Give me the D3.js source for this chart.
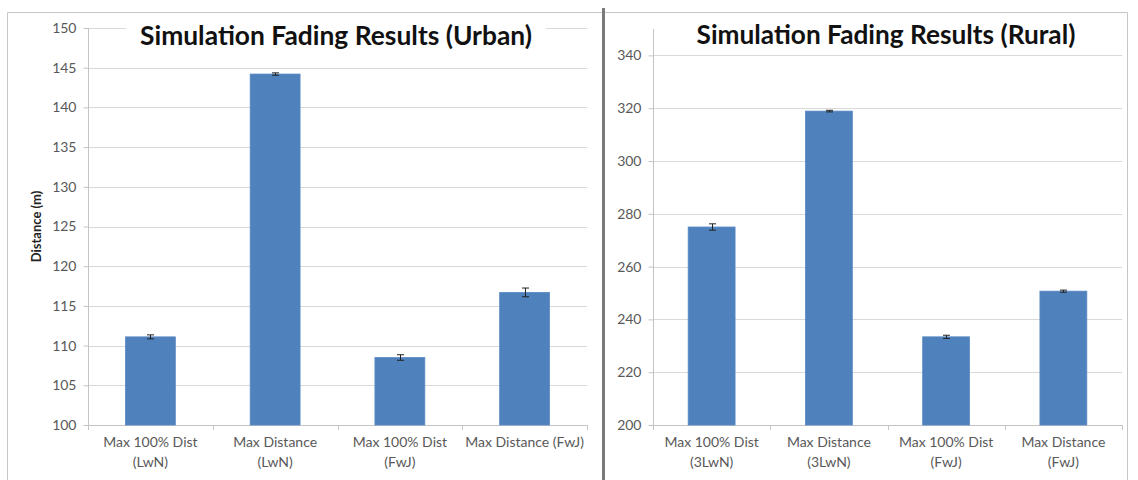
<!DOCTYPE html>
<html>
<head>
<meta charset="utf-8">
<script src="https://cdn.jsdelivr.net/npm/d3@7/dist/d3.min.js"></script>
<style>
  html, body { margin: 0; padding: 0; background: #fff; }
  svg { display: block; }
  text { font-family: Lato, "Open Sans", "DejaVu Sans", sans-serif; }
</style>
</head>
<body>
<svg id="chart" width="1138" height="480"></svg>
<script>
// Urban fading results
const urbanTitle = "Simulation Fading Results (Urban)";
const urbanCategories = ["Max 100% Dist\n(LwN)", "Max Distance\n(LwN)", "Max 100% Dist\n(FwJ)", "Max Distance (FwJ)"];
const urbanValues = [111.1, 144.2, 108.5, 116.7];
const urbanErrors = [0.25, 0.15, 0.35, 0.55];
const urbanTicks = [100, 105, 110, 115, 120, 125, 130, 135, 140, 145, 150];
const urbanDomain = [100, 150];

// Rural fading results
const ruralTitle = "Simulation Fading Results (Rural)";
const ruralCategories = ["Max 100% Dist\n(3LwN)", "Max Distance\n(3LwN)", "Max 100% Dist\n(FwJ)", "Max Distance\n(FwJ)"];
const ruralValues = [275.0, 318.9, 233.4, 250.7];
const ruralErrors = [1.2, 0.3, 0.6, 0.4];
const ruralTicks = [200, 220, 240, 260, 280, 300, 320, 340];
const ruralDomain = [200, 350];

const yLabel = "Distance (m)";

const svg = d3.select("#chart");

const BAR = "#4f81bd";
const GRID = "#d9d9d9";
const AXIS = "#c4c4c4";
const TEXT = "#595959";

// Panel frames
svg.append("path")
  .attr("d", "M7.5,480 V12.5 H603")
  .attr("fill", "none").attr("stroke", "#c6c6c6").attr("stroke-width", 1);
svg.append("path")
  .attr("d", "M605,12.5 H1127.5 V480")
  .attr("fill", "none").attr("stroke", "#c6c6c6").attr("stroke-width", 1);
svg.append("rect")
  .attr("x", 602).attr("y", 8).attr("width", 3).attr("height", 472)
  .attr("fill", "#7a7a7a");

function drawPanel(cfg) {
  const g = svg.append("g");
  const x = d3.scaleBand()
    .domain(cfg.categories)
    .range([cfg.left, cfg.right])
    .paddingInner(0.6)
    .paddingOuter(0.3);
  const y = d3.scaleLinear().domain(cfg.domain).range([cfg.bottom, cfg.top]);

  // horizontal gridlines
  g.append("g").selectAll("line")
    .data(cfg.ticks.slice(1))
    .join("line")
    .attr("x1", cfg.left).attr("x2", cfg.right)
    .attr("y1", d => Math.round(y(d)) + 0.5).attr("y2", d => Math.round(y(d)) + 0.5)
    .attr("stroke", GRID).attr("stroke-width", 1.2);

  // title (with white backing where it sits over a gridline)
  const title = g.append("text")
    .attr("x", cfg.titleX).attr("y", cfg.titleY)
    .attr("text-anchor", "middle")
    .attr("font-weight", "bold")
    .attr("font-size", 20)
    .attr("fill", "#111")
    .text(cfg.title);
  const w = title.node().getComputedTextLength();
  title.attr("font-size", 20 * cfg.titleWidth / w);
  if (cfg.titleBacking) {
    g.insert("rect", "text")
      .attr("x", cfg.titleX - cfg.titleWidth / 2 - 14)
      .attr("y", cfg.titleY - 26)
      .attr("width", cfg.titleWidth + 28)
      .attr("height", 34)
      .attr("fill", "#fff");
  }

  // y axis
  const yAxis = d3.axisLeft(y).tickValues(cfg.ticks).tickSize(5).tickPadding(7).tickFormat(d3.format("d"));
  const ya = g.append("g").attr("transform", `translate(${cfg.left + 0.5},0)`).call(yAxis);
  ya.select(".domain").attr("stroke", AXIS).attr("d", `M0,${y(cfg.domain[1])}V${cfg.bottom}`);
  ya.selectAll(".tick line").attr("stroke", AXIS);
  ya.selectAll(".tick text").attr("fill", TEXT).attr("font-size", 14).style("font-family", "Lato, sans-serif");

  // x axis with category boundary ticks
  g.append("line")
    .attr("x1", cfg.left).attr("x2", cfg.right)
    .attr("y1", cfg.bottom + 0.5).attr("y2", cfg.bottom + 0.5)
    .attr("stroke", AXIS);
  const step = x.step();
  g.append("g").selectAll("line")
    .data(d3.range(cfg.categories.length + 1))
    .join("line")
    .attr("x1", i => Math.round(cfg.left + i * step) + 0.5)
    .attr("x2", i => Math.round(cfg.left + i * step) + 0.5)
    .attr("y1", cfg.bottom).attr("y2", cfg.bottom + 5)
    .attr("stroke", AXIS);

  // category labels
  g.append("g").selectAll("text")
    .data(cfg.categories)
    .join("text")
    .attr("x", d => x(d) + x.bandwidth() / 2)
    .attr("y", cfg.bottom + 22)
    .attr("text-anchor", "middle")
    .attr("font-size", 14)
    .attr("fill", TEXT)
    .each(function(d) {
      const lines = d.split("\n");
      d3.select(this).selectAll("tspan")
        .data(lines)
        .join("tspan")
        .attr("x", x(d) + x.bandwidth() / 2)
        .attr("dy", (l, i) => i === 0 ? 0 : 20)
        .text(l => l);
    });

  // bars
  g.append("g").selectAll("rect")
    .data(cfg.values)
    .join("rect")
    .attr("x", (v, i) => x(cfg.categories[i]))
    .attr("y", v => y(v))
    .attr("width", x.bandwidth())
    .attr("height", v => cfg.bottom - y(v))
    .attr("fill", BAR)
    .attr("stroke", "#5a8ac4")
    .attr("stroke-width", 0.8);

  // error bars
  const eb = g.append("g").attr("stroke", "#222").attr("stroke-width", 1);
  cfg.values.forEach((v, i) => {
    const cx = Math.round(x(cfg.categories[i]) + x.bandwidth() / 2) + 0.5;
    const e = cfg.errors[i];
    eb.append("line").attr("x1", cx).attr("x2", cx).attr("y1", y(v + e)).attr("y2", y(v - e));
    eb.append("line").attr("x1", cx - 3.5).attr("x2", cx + 3.5).attr("y1", y(v + e)).attr("y2", y(v + e));
    eb.append("line").attr("x1", cx - 3.5).attr("x2", cx + 3.5).attr("y1", y(v - e)).attr("y2", y(v - e));
  });

  if (cfg.yLabel) {
    g.append("text")
      .attr("transform", `translate(${cfg.yLabelX},${(cfg.top + cfg.bottom) / 2}) rotate(-90)`)
      .attr("text-anchor", "middle")
      .attr("font-size", 13)
      .attr("font-weight", "bold")
      .attr("fill", "#222")
      .text(cfg.yLabel);
  }
}

drawPanel({
  title: urbanTitle, categories: urbanCategories, values: urbanValues, errors: urbanErrors,
  ticks: urbanTicks, domain: urbanDomain,
  left: 88, right: 587, top: 28, bottom: 425,
  titleX: 336, titleY: 45, titleWidth: 392, titleBacking: true,
  yLabel: yLabel, yLabelX: 41
});

drawPanel({
  title: ruralTitle, categories: ruralCategories, values: ruralValues, errors: ruralErrors,
  ticks: ruralTicks, domain: ruralDomain,
  left: 653, right: 1122, top: 29, bottom: 425,
  titleX: 886, titleY: 44, titleWidth: 379, titleBacking: false
});
</script>
</body>
</html>
